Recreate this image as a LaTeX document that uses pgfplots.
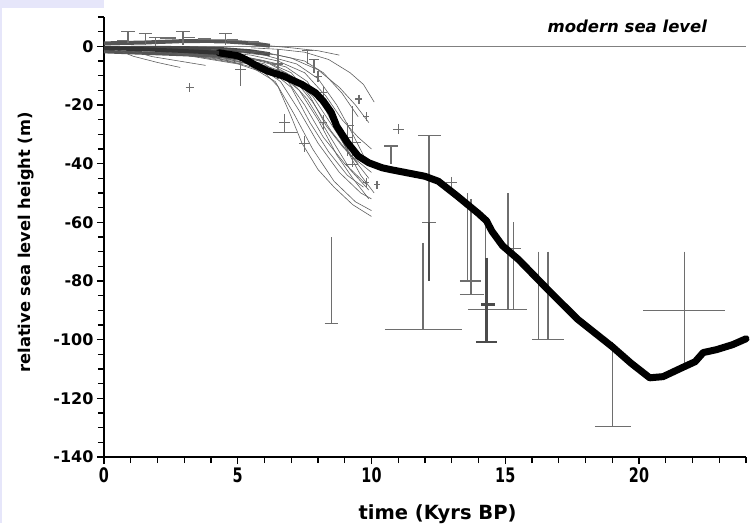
\documentclass[border=0pt]{standalone}
\usepackage{fontspec}
\setmainfont{DejaVu Sans}
\usepackage{pgfplots}
\pgfplotsset{compat=1.18}
\definecolor{lav}{RGB}{230,230,250}
\definecolor{eb}{RGB}{110,110,110}
\definecolor{ebd}{RGB}{75,75,75}
\definecolor{thinc}{RGB}{95,95,95}
\definecolor{bandc}{RGB}{85,85,85}
\definecolor{msl}{RGB}{128,128,128}
\begin{document}
\begin{tikzpicture}
\path[use as bounding box] (-104pt,-66pt) rectangle (647pt,457pt);
\fill[lav] (-104pt,449pt) rectangle (0pt,457pt);
\fill[lav] (-104pt,-66pt) rectangle (-101.7pt,449pt);
\begin{axis}[
  at={(0pt,0pt)}, anchor=south west,
  scale only axis, width=642pt, height=440pt,
  xmin=0, xmax=24, ymin=-140, ymax=10,
  axis x line=bottom, axis y line=left,
  axis line style={-, line width=1.3pt, black},
  tick align=outside,
  major tick length=7pt, minor tick length=6pt,
  tick style={line width=1.2pt, black},
  xtick={0,5,10,15,20}, xticklabels={0,5,10,15,20},
  minor xtick={1,2,3,4,6,7,8,9,11,12,13,14,16,17,18,19,21,22,23,24},
  ytick={-140,-120,-100,-80,-60,-40,-20,0},
  yticklabels={-140,-120,-100,-80,-60,-40,-20,0},
  minor ytick={-135,-130,-125,-115,-110,-105,-95,-90,-85,-75,-70,-65,-55,-50,-45,-35,-30,-25,-15,-10,-5,5,10},
  yticklabel style={font=\fontsize{16}{16}\selectfont\bfseries},
  xticklabel style={font=\fontsize{20}{20}\selectfont\bfseries, xscale=0.72},
  xlabel={time (Kyrs BP)},
  ylabel={relative sea level height (m)},
  xlabel style={font=\fontsize{19.5}{19.5}\selectfont\bfseries, at={(axis description cs:0.5195,-0.141)}, anchor=base},
  ylabel style={font=\fontsize{16.3}{16.3}\selectfont\bfseries, at={(axis description cs:-0.1215,0.4875)}, anchor=center},
  clip=false,
  unbounded coords=jump,
]
% modern sea level line
\addplot[msl, line width=1.4pt] coordinates {(0,0) (24,0)};
\node[anchor=base west, font=\fontsize{16.5}{16.5}\selectfont\bfseries\itshape] at (axis cs:16.45,4.8) {modern sea level};

% dense band 0-6 kyr
\addplot[bandc, line width=4pt] coordinates {(0,1.0) (1.5,1.3) (3,1.8) (4.5,1.7) (5.5,1.1) (6.2,0.2)};
\addplot[bandc!85!black, line width=4pt] coordinates {(0,-0.5) (1.5,-0.5) (3,-0.6) (4.5,-1.0) (5.5,-1.7) (6.2,-2.7)};
\addplot[bandc, line width=3.5pt] coordinates {(0,-1.8) (1.5,-2.3) (3,-2.8) (4.3,-3.3) (5.2,-4.4)};
\addplot[white, line width=0.8pt] coordinates {(0.6,0.4) (1.0,0.4) (0,nan) (2.2,0.8) (2.7,0.8) (0,nan) (3.6,1.0) (4.1,1.0) (0,nan) (1.4,-1.3) (1.9,-1.3) (0,nan) (3.0,-1.7) (3.4,-1.7) (0,nan) (4.6,0.3) (5.0,0.3)};

% thin model curves
\addplot[thinc, line width=0.6pt] coordinates {(5.5,-0.5) (6.5,-1) (7.5,-2) (8.4,-4.5) (9.2,-9) (9.7,-13) (10.1,-19)};
\addplot[thinc, line width=0.6pt] coordinates {(4.5,-1) (6,-2) (7,-4) (8,-8) (8.8,-14) (9.4,-20) (9.9,-26)};
\addplot[thinc, line width=0.6pt] coordinates {(4,-1.5) (5.5,-3) (6.5,-5) (7.5,-9) (8.3,-17) (8.9,-25) (9.5,-31) (10,-35)};
\addplot[thinc, line width=0.6pt] coordinates {(3,-1) (5,-3) (6.2,-6) (7,-10) (7.8,-19) (8.5,-29) (9.2,-37) (10,-43)};
\addplot[thinc, line width=0.6pt] coordinates {(2,-0.5) (4.5,-3) (6,-6) (6.8,-11) (7.5,-20) (8.2,-31) (9,-40) (9.8,-47)};
\addplot[thinc, line width=0.6pt] coordinates {(2.5,-2) (4.5,-4) (5.8,-7) (6.6,-12) (7.3,-22) (8,-33) (8.8,-43) (9.6,-50) (10,-52)};
\addplot[thinc, line width=0.6pt] coordinates {(1.5,-1) (4,-3.5) (5.5,-7) (6.4,-12) (7.1,-23) (7.8,-35) (8.6,-46) (9.4,-53) (10,-56)};
\addplot[thinc, line width=0.6pt] coordinates {(3,-3) (5,-6) (6,-9) (6.5,-13.6) (7,-24) (7.4,-33) (8,-42) (8.6,-48) (9.3,-54) (10,-58)};
\addplot[thinc, line width=0.6pt] coordinates {(2,-2) (4,-4) (5.5,-6) (6.5,-9) (7.3,-15) (8,-25) (8.7,-37) (9.3,-45) (9.9,-52)};
\addplot[thinc, line width=0.6pt] coordinates {(3.5,-2) (5.5,-4) (6.8,-7) (7.6,-12) (8.3,-22) (9,-34) (9.6,-44) (10.1,-50)};
\addplot[thinc, line width=0.6pt] coordinates {(1,-1) (3.5,-2.5) (5.5,-5) (6.8,-9) (7.8,-17) (8.6,-28) (9.3,-38) (9.9,-45)};
\addplot[thinc, line width=0.6pt] coordinates {(4,-1) (6,-3) (7.2,-6) (8,-11) (8.7,-20) (9.3,-30) (9.8,-39)};
\addplot[thinc, line width=0.6pt] coordinates {(5,-1.5) (6.5,-3) (7.5,-5) (8.2,-9) (8.9,-16) (9.5,-24)};
\addplot[thinc, line width=0.6pt] coordinates {(0.5,-0.5) (2.5,-2) (4.5,-3.5) (6,-5) (7,-9) (7.7,-17) (8.3,-27) (8.9,-34) (9.5,-40)};
\addplot[thinc, line width=0.6pt] coordinates {(2,-1.5) (4,-3) (5.7,-5.5) (6.8,-10) (7.6,-18) (8.4,-30) (9.2,-42) (9.9,-49)};
\addplot[thinc, line width=0.6pt] coordinates {(3,-2.5) (5,-5) (6.2,-8) (7,-14) (7.7,-26) (8.4,-36) (9.1,-44) (9.7,-48)};
\addplot[thinc, line width=0.6pt] coordinates {(0.3,-0.5) (1.1,-3.4) (2,-5.5) (2.85,-7.2)};
\addplot[thinc, line width=0.6pt] coordinates {(0.8,-1) (1.8,-3.5) (2.8,-5) (3.8,-6.5)};
\addplot[thinc, line width=0.6pt] coordinates {(2.5,-2) (3.5,-3.5) (4.5,-5) (5.2,-6)};
\addplot[thinc, line width=0.6pt] coordinates {(3.8,-2) (4.8,-3) (5.8,-4.5) (6.5,-6)};
\addplot[thinc, line width=0.6pt] coordinates {(5.8,0.5) (7,-0.5) (8,-1.5) (8.8,-3)};

% error bars and crosses
\addplot[eb, line width=1.3pt] coordinates {
(0.65,5) (1.15,5) (0,nan) (0.9,5) (0.9,1) (0,nan)
(1.3,4.3) (1.8,4.3) (0,nan) (1.55,4.3) (1.55,0.5) (0,nan)
(1.7,3.1) (2.15,3.1) (0,nan) (1.92,3.1) (1.92,0) (0,nan)
(2.7,5) (3.2,5) (0,nan) (2.95,5) (2.95,0.5) (0,nan)
(4.3,4.3) (4.8,4.3) (0,nan) (4.55,4.3) (4.55,0.5) (0,nan)
(2.1,2.8) (2.7,2.8) (0,nan) (3.5,2.5) (4.0,2.5) (0,nan) (4.6,2.2) (5.0,2.2) (0,nan) (5.4,1.5) (5.8,1.5) (0,nan) (3.0,3.0) (3.4,3.0) (0,nan) (0.5,2.0) (0.9,2.0) (0,nan)
(3.05,-14) (3.35,-14) (0,nan) (3.2,-12.5) (3.2,-15.5) (0,nan)
(5.1,-4) (5.1,-13.6) (0,nan) (4.9,-8) (5.3,-8) (0,nan)
(6.5,-1) (6.5,-11.3) (0,nan) (6.3,-6) (6.7,-6) (0,nan)
(7.4,-1.5) (7.8,-1.5) (0,nan) (7.6,-1.5) (7.6,-6) (0,nan)
(7.65,-4.4) (8.05,-4.4) (0,nan) (7.85,-4.4) (7.85,-9) (0,nan)
(6.3,-29.4) (7.2,-29.4) (0,nan) (6.75,-23) (6.75,-29.4) (0,nan) (6.55,-26) (6.95,-26) (0,nan)
(7.3,-33.2) (7.7,-33.2) (0,nan) (7.5,-30.5) (7.5,-36) (0,nan)
(9.3,-20.5) (9.3,-41) (0,nan) (9.0,-40.3) (9.5,-40.3) (0,nan) (9.3,-32.8) (9.6,-32.8) (0,nan) (9.1,-27) (9.35,-27) (0,nan)
(9.4,-18) (9.65,-18) (0,nan) (9.53,-16.5) (9.53,-19.5) (0,nan)
(9.7,-23.9) (9.9,-23.9) (0,nan) (9.8,-22.5) (9.8,-25.3) (0,nan)
(9.7,-46.4) (9.9,-46.4) (0,nan) (9.8,-45) (9.8,-47.8) (0,nan)
(10.1,-47.2) (10.3,-47.2) (0,nan) (10.2,-45.8) (10.2,-48.6) (0,nan)
(8.05,-15.7) (8.35,-15.7) (0,nan) (8.2,-13.5) (8.2,-18) (0,nan)
(7.85,-10.2) (8.15,-10.2) (0,nan) (8.0,-8.5) (8.0,-12) (0,nan)
(8.05,-26) (8.35,-26) (0,nan) (8.2,-23.5) (8.2,-28.5) (0,nan)
(9.1,-26) (9.1,-37.5) (0,nan) (8.9,-31) (9.3,-31) (0,nan)
(10.47,-34) (10.99,-34) (0,nan) (10.73,-34) (10.73,-40) (0,nan)
(10.8,-28.3) (11.2,-28.3) (0,nan) (11.0,-26.5) (11.0,-30) (0,nan)
(11.75,-30.4) (12.6,-30.4) (0,nan) (12.15,-30.4) (12.15,-60) (0,nan)
(11.9,-60) (12.4,-60) (0,nan)
(11.93,-67) (11.93,-96.6) (0,nan) (10.5,-96.6) (13.4,-96.6) (0,nan)
(12.8,-46.4) (13.2,-46.4) (0,nan) (13.0,-44.5) (13.0,-48.5) (0,nan)
(13.6,-50) (13.6,-80) (0,nan) (13.3,-80) (14.1,-80) (0,nan)
(13.72,-52) (13.72,-84.6) (0,nan) (13.3,-84.6) (14.2,-84.6) (0,nan)
(14.25,-59) (14.25,-72) (0,nan)
(13.6,-89.8) (15.8,-89.8) (0,nan) (15.1,-50) (15.1,-89.8) (0,nan) (15.3,-60) (15.3,-89.8) (0,nan) (15.05,-69) (15.6,-69) (0,nan)
(16.25,-70) (16.25,-100) (0,nan) (16.6,-70) (16.6,-100) (0,nan) (16.0,-100) (17.2,-100) (0,nan)
(19.0,-100.7) (19.0,-129.7) (0,nan) (18.35,-129.7) (19.7,-129.7) (0,nan)
(21.7,-70) (21.7,-109) (0,nan) (20.15,-90) (23.2,-90) (0,nan)
(8.5,-65) (8.5,-94.5) (0,nan) (8.25,-94.5) (8.75,-94.5)
};
\addplot[ebd, line width=2.2pt] coordinates {
(12.15,-60) (12.15,-80) (0,nan)
(14.3,-72) (14.3,-100.7) (0,nan) (13.9,-100.7) (14.7,-100.7) (0,nan) (14.1,-88) (14.6,-88)
};

% main thick black curve
\addplot[black, line width=7pt, line join=round, line cap=round] coordinates {
(4.3,-2.2) (5.0,-3.2) (5.3,-4.5) (5.6,-6.1) (6.1,-8.4) (6.7,-10.1)
(7.4,-13) (7.9,-15.8) (8.2,-18.7) (8.5,-22.6) (8.7,-27.2) (9.1,-32.8) (9.5,-37.4) (9.9,-39.7)
(10.4,-41.4) (10.7,-42) (12.0,-44.3) (12.5,-46) (13.2,-51) (14.0,-57) (14.3,-59.5) (14.5,-63)
(14.9,-68) (15.5,-72.7) (16.6,-83) (17.7,-93) (19.0,-102.4) (19.7,-108) (20.4,-113) (20.9,-112.6)
(21.6,-109.6) (22.1,-107.5) (22.4,-104.4) (22.9,-103.4) (23.5,-101.7) (24.0,-99.7)
};
\addplot[black!80, line width=4pt] coordinates {(0,-0.6) (1.5,-1.0) (3,-1.6) (4.3,-2.2)};
\end{axis}
\end{tikzpicture}
\end{document}
